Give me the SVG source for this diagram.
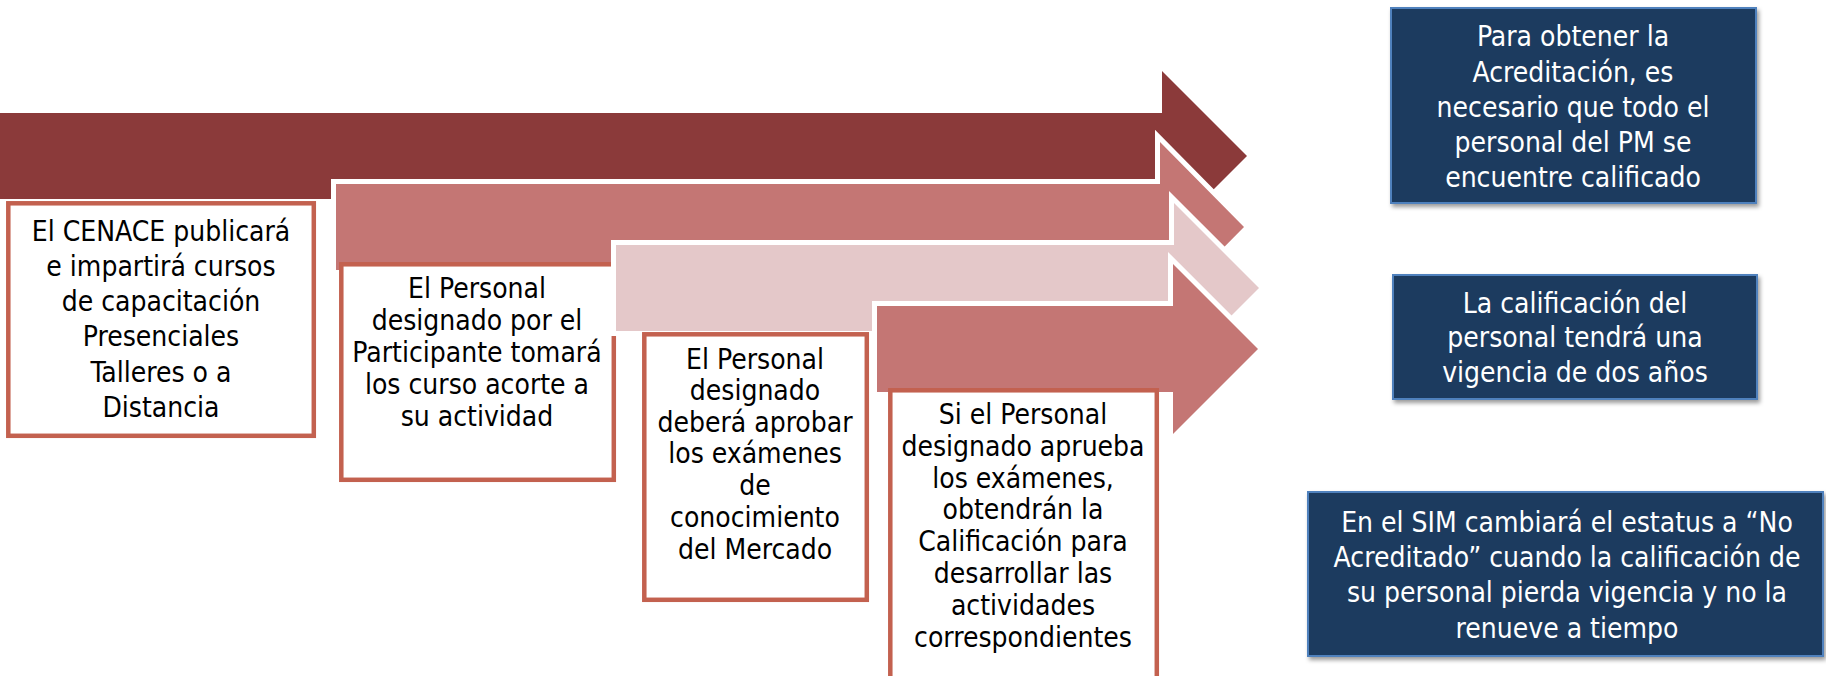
<svg xmlns="http://www.w3.org/2000/svg" width="1826" height="676" viewBox="0 0 1826 676">
<defs>
<filter id="shadow" x="-10%" y="-10%" width="125%" height="130%">
<feDropShadow dx="2" dy="3" stdDeviation="2" flood-color="#000" flood-opacity="0.4"/>
</filter>
<style>
.arrow{stroke:#ffffff;stroke-width:10;paint-order:stroke;stroke-linejoin:miter;stroke-miterlimit:10}
.a-dark{fill:#8B3A3A}
.a-mid{fill:#C47674}
.a-light{fill:#E4C8C9}
.box{fill:#ffffff;stroke:#C3614F;stroke-width:4.5}
.nbox{fill:#1C3A5F;stroke:#4F81BD;stroke-width:2}
text{font-family:"DejaVu Sans Condensed","DejaVu Sans","Liberation Sans",sans-serif;font-stretch:condensed;font-size:28px;text-anchor:middle}
.dark{fill:#000000}
.light{fill:#ffffff}
</style>
</defs>
<rect width="1826" height="676" fill="#ffffff"/>

<g id="step1">
<polygon class="arrow a-dark" points="-20,113 1162,113 1162,71 1247,156 1162,241 1162,199 -20,199"/>
<rect class="box" x="8.3" y="203.3" width="305.5" height="232.5"/>
<text class="dark"><tspan x="161" y="241">El CENACE publicará</tspan><tspan x="161" y="276">e impartirá cursos</tspan><tspan x="161" y="311">de capacitación</tspan><tspan x="161" y="346">Presenciales</tspan><tspan x="161" y="382">Talleres o a</tspan><tspan x="161" y="417">Distancia</tspan></text>
</g>

<g id="step2">
<polygon class="arrow a-mid" points="336,184 1160,184 1160,142 1244,227 1160,312 1160,270 336,270"/>
<rect class="box" x="341.3" y="264.3" width="272.5" height="215.5"/>
<text class="dark"><tspan x="477" y="298">El Personal</tspan><tspan x="477" y="330">designado por el</tspan><tspan x="477" y="362">Participante tomará</tspan><tspan x="477" y="394">los curso acorte a</tspan><tspan x="477" y="426">su actividad</tspan></text>
</g>

<g id="step3">
<polygon class="arrow a-light" points="616,245 1174,245 1174,203 1259,288 1174,373 1174,331 616,331"/>
<rect class="box" x="644.3" y="334.3" width="222.5" height="265.5"/>
<text class="dark"><tspan x="755" y="369">El Personal</tspan><tspan x="755" y="400">designado</tspan><tspan x="755" y="432">deberá aprobar</tspan><tspan x="755" y="463">los exámenes</tspan><tspan x="755" y="495">de</tspan><tspan x="755" y="527">conocimiento</tspan><tspan x="755" y="559">del Mercado</tspan></text>
</g>

<g id="step4">
<polygon class="arrow a-mid" points="877,306 1173,306 1173,264 1258,349 1173,434 1173,392 877,392"/>
<rect class="box" x="890.3" y="390.3" width="266.5" height="300"/>
<text class="dark"><tspan x="1023" y="424">Si el Personal</tspan><tspan x="1023" y="456">designado aprueba</tspan><tspan x="1023" y="488">los exámenes,</tspan><tspan x="1023" y="519">obtendrán la</tspan><tspan x="1023" y="551">Calificación para</tspan><tspan x="1023" y="583">desarrollar las</tspan><tspan x="1023" y="615">actividades</tspan><tspan x="1023" y="647">correspondientes</tspan></text>
</g>

<g id="note1">
<rect class="nbox" x="1391" y="8" width="365" height="195" filter="url(#shadow)"/>
<text class="light"><tspan x="1573" y="46">Para obtener la</tspan><tspan x="1573" y="82">Acreditación, es</tspan><tspan x="1573" y="117">necesario que todo el</tspan><tspan x="1573" y="152">personal del PM se</tspan><tspan x="1573" y="187">encuentre calificado</tspan></text>
</g>

<g id="note2">
<rect class="nbox" x="1393" y="275" width="364" height="124" filter="url(#shadow)"/>
<text class="light"><tspan x="1575" y="313">La calificación del</tspan><tspan x="1575" y="347">personal tendrá una</tspan><tspan x="1575" y="382">vigencia de dos años</tspan></text>
</g>

<g id="note3">
<rect class="nbox" x="1308" y="492" width="515" height="164" filter="url(#shadow)"/>
<text class="light"><tspan x="1567" y="532">En el SIM cambiará el estatus a “No</tspan><tspan x="1567" y="567">Acreditado” cuando la calificación de</tspan><tspan x="1567" y="602">su personal pierda vigencia y no la</tspan><tspan x="1567" y="638">renueve a tiempo</tspan></text>
</g>
</svg>
